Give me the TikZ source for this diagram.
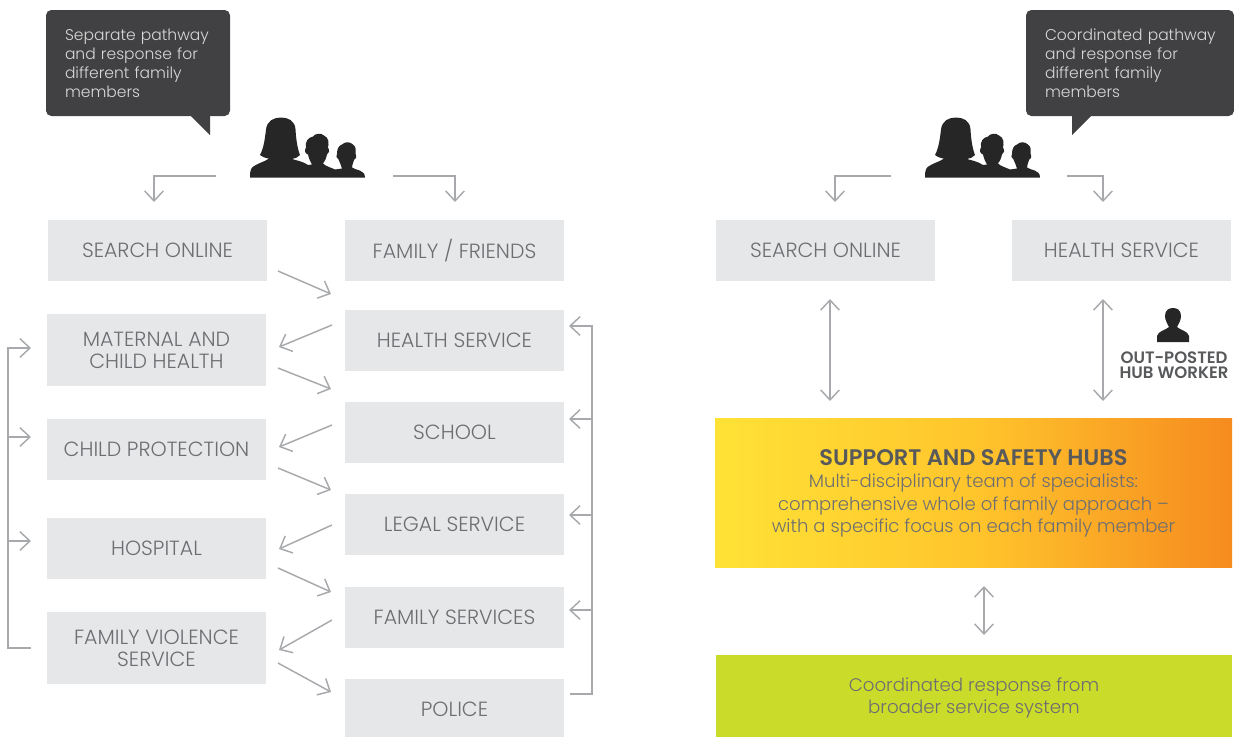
\documentclass[tikz,border=0pt]{standalone}
\usepackage{fontspec}
\setmainfont{Poppins}[UprightFont={* Light},BoldFont={* SemiBold}]
\usetikzlibrary{arrows.meta}
\definecolor{boxgray}{HTML}{E6E7E8}
\definecolor{txtgray}{HTML}{6D6E71}
\definecolor{linegray}{HTML}{A7A9AC}
\definecolor{bubble}{HTML}{414042}
\definecolor{iconblack}{HTML}{262626}
\definecolor{titlegray}{HTML}{58595B}
\definecolor{lime}{HTML}{CBDB2A}
\definecolor{hubleft}{HTML}{FFE236}
\definecolor{hubmid}{HTML}{FFC52C}
\definecolor{hubright}{HTML}{F68B1F}
\tikzset{
  x=0.75pt,y=-0.75pt,
  box/.style={fill=boxgray,text=txtgray,minimum width=164.25pt,minimum height=45.75pt,inner sep=0pt,outer sep=0pt,align=center,font=\fontsize{15.4}{16.5}\selectfont},
  tallbox/.style={box,minimum height=54pt},
  bubblebox/.style={fill=bubble,text=white!80!bubble,rounded corners=4pt,inner sep=0pt,outer sep=0pt,anchor=north west,font=\fontsize{11.65}{14.25}\selectfont},
  conn/.style={draw=linegray,line width=1.1pt,-{Straight Barb[length=7.5pt,width=14pt,line width=1.1pt]}},
  dbl/.style={draw=linegray,line width=1.1pt,{Straight Barb[length=7.5pt,width=14pt,line width=1.1pt]}-{Straight Barb[length=7.5pt,width=14pt,line width=1.1pt]}},
  family/.pic={
    \fill[iconblack] (0,60) .. controls (0,52) and (1,50) .. (5,48) .. controls (10,45) and (15,44) .. (19,41)
      .. controls (16,41) and (12,39) .. (10,37.5) .. controls (14,30) and (15,20) .. (16,12)
      .. controls (17,3) and (24,0) .. (31,0) .. controls (38,0) and (45,3) .. (45.5,12)
      .. controls (46,20) and (47,30) .. (50,37.5) .. controls (48,40) and (45,41) .. (42,41.5)
      .. controls (47,43) and (53,44) .. (58,47.5) -- (62,47)
      .. controls (60,44) and (59,41) .. (58,37) .. controls (55,36) and (54,33) .. (56,30)
      .. controls (55,24) and (58,20) .. (63,19) .. controls (65,16) and (71,15) .. (74,18)
      .. controls (79,20) and (79,26) .. (78,30) .. controls (80,33) and (79,36) .. (77,37)
      .. controls (76,41) and (75,44) .. (73,46) .. controls (76,49) and (81,50) .. (85,52)
      -- (92,51) .. controls (91,48) and (90,45) .. (88.5,42) .. controls (86,41) and (86,38) .. (87,36)
      .. controls (87,31) and (89,28) .. (92,27) .. controls (95,24) and (100,24) .. (103,27)
      .. controls (106,29) and (106,33) .. (105.5,36) .. controls (107,39) and (106,42) .. (104,42.5)
      .. controls (103,46) and (102,48) .. (102,50)
      .. controls (106,53) and (115,52) .. (115,60) -- cycle;
  },
  worker/.pic={
    \fill[iconblack] (0,34) -- (0,28) .. controls (1,23) and (9,22) .. (12,19)
      .. controls (10,15) and (8,12) .. (8,8) .. controls (8,2) and (12,0) .. (16,0)
      .. controls (20,0) and (24,2) .. (24,8) .. controls (24,12) and (22,15) .. (20,19)
      .. controls (23,22) and (31,23) .. (32,28) -- (32,34) -- cycle;
  }
}
\begin{document}
\begin{tikzpicture}
\useasboundingbox (0,0) rectangle (1234,736);
% speech bubbles
\fill[bubble] (190,115) -- (210,135) -- (210,115) -- cycle;
\fill[bubble] (1072,115) -- (1072,135) -- (1092,115) -- cycle;
\node[bubblebox,minimum width=138pt,minimum height=79.5pt,text width=138pt] (bl) at (46,10) {\hspace*{14.25pt}\parbox{120pt}{Separate pathway\\and response for\\different family\\members}};
\node[bubblebox,minimum width=156pt,minimum height=79.5pt,text width=156pt] (br) at (1026,10) {\hspace*{14.25pt}\parbox{138pt}{Coordinated pathway\\and response for\\different family\\members}};
% people
\pic at (250,117.5) {family};
\pic at (925,117.5) {family};
\coordinate (famLl) at (216,176);
\coordinate (famLr) at (393,176);
\coordinate (famRl) at (891,176);
\coordinate (famRr) at (1067,176);
% left column
\node[box] (so) at (157.5,250.5) {SEARCH ONLINE};
\node[tallbox] (mch) at (156.5,350) {MATERNAL AND\\CHILD HEALTH};
\node[box] (cp) at (156.5,449.5) {CHILD PROTECTION};
\node[box] (ho) at (156.5,548.5) {HOSPITAL};
\node[tallbox] (fv) at (156.5,648) {FAMILY VIOLENCE\\SERVICE};
% second column
\node[box] (ff) at (454.5,250.5) {FAMILY / FRIENDS};
\node[box] (hs) at (454.5,340.5) {HEALTH SERVICE};
\node[box] (sc) at (454.5,432.5) {SCHOOL};
\node[box] (ls) at (454.5,524.5) {LEGAL SERVICE};
\node[box] (fs) at (454.5,617.5) {FAMILY SERVICES};
\node[box] (po) at (454.5,709.5) {POLICE};
% right side
\node[box] (so2) at (825.5,250.5) {SEARCH ONLINE};
\node[box] (hs2) at (1121.5,250.5) {HEALTH SERVICE};
\node[minimum width=387.75pt,minimum height=111.5pt,inner sep=0pt,outer sep=0pt,
  left color=hubleft,right color=hubright,middle color=hubmid,shading angle=90,
  text=txtgray,align=center,font=\fontsize{13.55}{16.9}\selectfont] (hub) at (973.5,493.25)
  {{\bfseries\color{titlegray}\fontsize{16.9}{16.9}\selectfont SUPPORT AND SAFETY HUBS}\\Multi-disciplinary team of specialists:\\comprehensive whole of family approach –\\with a specific focus on each family member};
\node[fill=lime,minimum width=387pt,minimum height=63.75pt,inner sep=0pt,outer sep=0pt,text=txtgray,align=center,font=\fontsize{13.65}{16.5}\selectfont] (co) at (974,697.5) {Coordinated response from\\broader service system};
\pic at (1157,308) {worker};
\node[text=titlegray,align=center,inner sep=0pt,font=\bfseries\fontsize{12.4}{11}\selectfont] (wk) at (1174,365.5) {OUT-POSTED\\HUB WORKER};
% top elbow arrows
\draw[conn] (famLl) -- (154,176) -- (154,202);
\draw[conn] (famLr) -- (455,176) -- (455,202);
\draw[conn] (famRl) -- (835,176) -- (835,202);
\draw[conn] (famRr) -- (1103,176) -- (1103,202);
% zigzag
\coordinate (z1a) at (278,271); \coordinate (z1b) at (331,294);
\coordinate (z2a) at (332,325); \coordinate (z2b) at (279,347);
\coordinate (z3a) at (278,368); \coordinate (z3b) at (331,389);
\coordinate (z4a) at (332,425); \coordinate (z4b) at (279,447);
\coordinate (z5a) at (278,468); \coordinate (z5b) at (331,490);
\coordinate (z6a) at (332,525); \coordinate (z6b) at (279,549);
\coordinate (z7a) at (278,568); \coordinate (z7b) at (331,592);
\coordinate (z8a) at (332,620); \coordinate (z8b) at (279,650);
\coordinate (z9a) at (278,663); \coordinate (z9b) at (331,692);
\foreach \i in {1,...,9} {\draw[conn] (z\i a) -- (z\i b);}
% left bracket
\draw[conn] (31,648) -- (8,648) -- (8,348) -- (31,348);
\draw[conn] (8,437) -- (31,437);
\draw[conn] (8,541) -- (31,541);
% right bracket
\draw[conn] (570,694) -- (592,694) -- (592,326) -- (569,326);
\draw[conn] (592,419) -- (569,419);
\draw[conn] (592,515) -- (569,515);
\draw[conn] (592,610) -- (569,610);
% double arrows
\draw[dbl] (830,299) -- (830,401);
\draw[dbl] (1103,299) -- (1103,401);
\draw[dbl] (984,586) -- (984,635);
\end{tikzpicture}
\end{document}
